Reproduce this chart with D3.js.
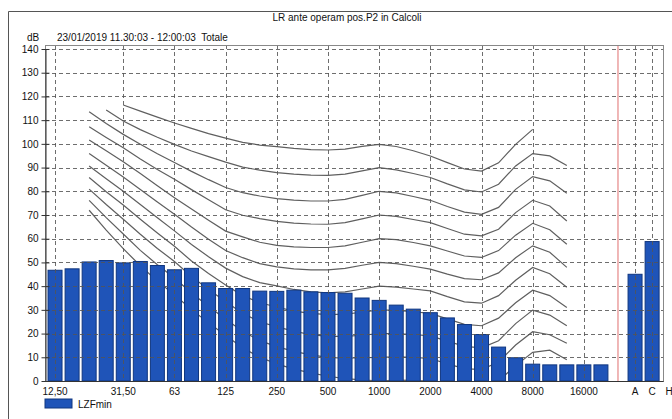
<!DOCTYPE html>
<html>
<head>
<meta charset="utf-8">
<script src="https://cdn.jsdelivr.net/npm/d3@7"></script>
<style>
  body { margin: 0; background: #fff; }
  text { font-family: "Liberation Sans", Arial, sans-serif; }
</style>
</head>
<body>
<div id="container"></div>
<script>
/**
 * CONSTANTS AND GLOBALS
 * */
const width = 672,
  height = 419,
  plot = { left: 45, right: 663, top: 45, bottom: 381 };

// third-octave bands shown as bars
const bandLabels = ['12,50','16','20','25','31,50','40','50','63','80','100','125','160','200','250',
  '315','400','500','630','800','1000','1250','1600','2000','2500','3150','4000','5000','6300',
  '8000','10000','12500','16000','20000'];
const lzfmin = [46.7, 47.3, 50.2, 50.8, 49.8, 50.4, 48.7, 46.9, 47.5, 41.4, 39.0, 39.0, 37.9, 37.8,
  38.3, 37.6, 37.3, 37.0, 35.0, 34.0, 32.0, 30.3, 28.8, 26.6, 23.8, 19.6, 14.3, 9.8,
  7.1, 6.8, 6.8, 6.8, 6.8];

// overall weighted levels
const totalLabels = ['A', 'C', 'H'];
const totalValues = [45.0, 58.8, null];

const tickLabels = ['12,50','31,50','63','125','250','500','1000','2000','4000','8000','16000','A','C','H'];
const yTicks = [0, 10, 20, 30, 40, 50, 60, 70, 80, 90, 100, 110, 120, 130, 140];

// equal loudness contours, 20 Hz .. 12500 Hz (null = not drawn)
const contourBands = ['20','25','31,50','40','50','63','80','100','125','160','200','250','315','400',
  '500','630','800','1000','1250','1600','2000','2500','3150','4000','5000','6300','8000','10000','12500'];
const phon100 = [null, null, 116.4, 113.8, 111.3, 108.8, 106.5, 104.3, 102.4, 100.6, 99.5, 98.8, 98.1, 97.6,
  97.4, 97.8, 98.9, 99.8, 98.9, 97.1, 94.9, 92.1, 89.4, 88.5, 92.0, 99.8, 106.1, null, null];
const phon90 = [null, 114.3, 109.6, 106.0, 102.8, 99.8, 97.0, 94.6, 92.3, 90.2, 88.9, 87.9, 87.2, 86.8,
  86.7, 87.2, 88.6, 90.0, 89.0, 87.5, 85.8, 83.1, 80.6, 79.7, 83.0, 90.7, 95.9, 94.9, 90.9];
const phon80 = [113.5, 108.6, 104.0, 99.8, 95.8, 92.1, 88.4, 84.9, 81.6, 79.4, 78.0, 76.9, 76.3, 75.9,
  75.9, 76.6, 78.3, 80.0, 79.3, 77.8, 76.2, 73.6, 71.2, 70.3, 73.2, 80.8, 86.2, 84.4, 79.2];
const phon70 = [107.2, 102.7, 98.4, 93.6, 89.2, 85.1, 80.7, 76.4, 72.2, 69.9, 68.5, 67.3, 66.6, 66.2,
  66.1, 66.8, 68.4, 70.0, 69.4, 68.1, 66.8, 64.3, 61.9, 61.2, 64.0, 71.0, 76.2, 73.8, 67.5];
const phon60 = [101.6, 97.1, 92.5, 87.5, 82.3, 77.3, 72.5, 67.8, 63.2, 60.8, 58.5, 57.2, 56.6, 56.3,
  56.3, 57.0, 58.5, 60.0, 59.6, 58.4, 57.0, 54.8, 52.7, 52.1, 55.0, 61.5, 66.5, 63.8, 57.7];
const phon50 = [95.9, 91.0, 86.0, 80.8, 75.5, 70.3, 64.9, 59.8, 55.0, 52.0, 49.5, 48.1, 47.3, 46.9,
  46.9, 47.5, 48.8, 50.0, 49.5, 48.4, 47.2, 45.1, 43.2, 42.7, 45.6, 52.0, 57.0, 54.3, 47.9];
const phon40 = [90.7, 85.3, 80.0, 74.4, 68.8, 63.3, 57.6, 52.4, 47.6, 44.0, 41.5, 40.1, 38.6, 37.6,
  37.2, 37.6, 38.8, 40.0, 39.6, 38.8, 38.0, 35.6, 33.4, 32.8, 36.0, 42.5, 47.9, 45.2, 39.5];
const phon30 = [85.8, 79.8, 74.2, 68.2, 62.4, 56.8, 50.6, 45.3, 40.5, 36.0, 33.0, 31.2, 29.5, 28.5,
  28.0, 28.2, 29.0, 30.0, 29.8, 29.2, 28.5, 26.2, 23.9, 23.3, 26.5, 33.0, 38.3, 36.0, 31.0];
const phon20 = [80.9, 74.4, 68.2, 61.9, 55.9, 50.4, 44.1, 38.6, 33.5, 28.5, 25.0, 22.8, 21.0, 19.5,
  18.8, 18.8, 19.3, 20.0, 20.0, 19.6, 19.0, 16.8, 14.6, 14.0, 17.0, 24.2, 29.9, 27.8, 23.3];
const phon10 = [76.2, 68.9, 62.0, 55.1, 49.0, 43.4, 37.1, 31.5, 26.0, 21.0, 17.0, 14.5, 12.5, 11.0,
  10.0, 9.6, 9.8, 10.0, 10.2, 10.0, 9.5, 7.2, 5.2, 4.8, 8.0, 15.2, 20.8, 19.5, 15.9];
const phon0 = [72.0, 63.6, 55.8, 48.6, 42.1, 36.4, 30.1, 24.6, 19.2, 14.0, 10.0, 7.2, 5.0, 3.4,
  2.0, 1.0, 0.5, 0.0, 0.4, 0.3, 0.0, -2.0, -3.8, -4.0, 0.0, 6.5, 12.1, 13.0, 9.0];
const contours = [phon0, phon10, phon20, phon30, phon40, phon50, phon60, phon70, phon80, phon90, phon100];

const barFill = "#1f54b8", barStroke = "#10367f";
const textColor = "#111";

/**
 * SCALES
 * */
const categories = bandLabels.concat(['gap'], totalLabels);

const x = d3.scaleBand()
  .domain(categories)
  .range([46.5, 677.7])
  .paddingInner(0.18)
  .paddingOuter(0.09);
const xc = d => x(d) + x.bandwidth() / 2;

const y = d3.scaleLinear()
  .domain([0, 140])
  .range([381, 49]);

const svg = d3.select("#container")
  .append("svg")
  .attr("width", width)
  .attr("height", height);

svg.append("defs").append("clipPath")
  .attr("id", "plotclip")
  .append("rect")
  .attr("x", plot.left)
  .attr("y", plot.top)
  .attr("width", plot.right - plot.left)
  .attr("height", plot.bottom - plot.top);

// outer frame
svg.append("line").attr("x1", 8.5).attr("x2", 8.5).attr("y1", 11.5).attr("y2", height)
  .attr("stroke", "#555");
svg.append("line").attr("x1", 8.5).attr("x2", width).attr("y1", 11.5).attr("y2", 11.5)
  .attr("stroke", "#555");

// titles
svg.append("text").attr("x", 347).attr("y", 21).attr("text-anchor", "middle")
  .attr("font-size", 10).attr("fill", textColor).text("LR ante operam pos.P2 in Calcoli");
svg.append("text").attr("x", 27).attr("y", 41)
  .attr("font-size", 10).attr("fill", textColor).text("dB");
svg.append("text").attr("x", 57).attr("y", 41)
  .attr("font-size", 10).attr("fill", textColor).attr("xml:space", "preserve")
  .text("23/01/2019 11.30:03 - 12:00:03  Totale");

const inner = svg.append("g").attr("clip-path", "url(#plotclip)");

// contours (behind the bars)
const line = d3.line()
  .defined(d => d.v !== null)
  .x(d => xc(d.f))
  .y(d => y(d.v));

inner.selectAll("path.contour")
  .data(contours.map(c => c.map((v, i) => ({ f: contourBands[i], v: v }))))
  .join("path")
  .attr("class", "contour")
  .attr("fill", "none")
  .attr("stroke", "#5f5f5f")
  .attr("stroke-width", 1.2)
  .attr("d", line);

// bars
const bars = bandLabels.map((b, i) => ({ k: b, v: lzfmin[i] }))
  .concat(totalLabels.map((b, i) => ({ k: b, v: totalValues[i] })))
  .filter(d => d.v !== null);

inner.selectAll("rect.bar")
  .data(bars)
  .join("rect")
  .attr("class", "bar")
  .attr("x", d => x(d.k))
  .attr("y", d => y(d.v))
  .attr("width", x.bandwidth())
  .attr("height", d => y(0) - y(d.v))
  .attr("fill", barFill)
  .attr("stroke", barStroke)
  .attr("stroke-width", 1);

// grid (drawn over the bars)
const grid = svg.append("g").attr("stroke", "#555").attr("stroke-dasharray", "4,3")
  .attr("stroke-opacity", 0.85);
grid.selectAll("line.h")
  .data(yTicks.filter(d => d > 0))
  .join("line")
  .attr("class", "h")
  .attr("x1", plot.left).attr("x2", plot.right)
  .attr("y1", d => Math.round(y(d)) + 0.5).attr("y2", d => Math.round(y(d)) + 0.5);
grid.selectAll("line.v")
  .data(tickLabels.filter(d => d !== 'H'))
  .join("line")
  .attr("class", "v")
  .attr("x1", d => Math.round(xc(d)) + 0.5).attr("x2", d => Math.round(xc(d)) + 0.5)
  .attr("y1", plot.top).attr("y2", plot.bottom);

// separator before the overall levels
svg.append("line")
  .attr("x1", xc('gap')).attr("x2", xc('gap'))
  .attr("y1", plot.top).attr("y2", plot.bottom)
  .attr("stroke", "#e07070").attr("stroke-width", 1);

// plot box
svg.append("rect")
  .attr("x", plot.left + 0.5).attr("y", plot.top + 0.5)
  .attr("width", plot.right - plot.left).attr("height", plot.bottom - plot.top)
  .attr("fill", "none").attr("stroke", "#888");

// axes
const yAxis = svg.append("g")
  .attr("transform", `translate(${plot.left + 0.5},0)`)
  .call(d3.axisLeft(y).tickValues(yTicks).tickSizeInner(4).tickSizeOuter(0).tickPadding(3));
yAxis.select(".domain").attr("stroke", "#333");
yAxis.selectAll(".tick line").attr("x2", 4).attr("x1", -4).attr("stroke", "#333");
yAxis.selectAll(".tick text").attr("font-size", 10).attr("fill", textColor)
  .attr("font-family", "Liberation Sans, Arial, sans-serif");

const xAxis = svg.append("g")
  .attr("transform", `translate(0,${plot.bottom + 0.5})`)
  .call(d3.axisBottom(x).tickValues(tickLabels).tickSize(0).tickPadding(6));
xAxis.select(".domain").remove();
xAxis.selectAll(".tick text").attr("font-size", 10).attr("fill", textColor)
  .attr("font-family", "Liberation Sans, Arial, sans-serif");
svg.append("line").attr("x1", plot.left).attr("x2", plot.right + 0.5)
  .attr("y1", plot.bottom + 0.5).attr("y2", plot.bottom + 0.5).attr("stroke", "#333");

// legend
svg.append("rect").attr("x", 45).attr("y", 399).attr("width", 27).attr("height", 9)
  .attr("fill", barFill).attr("stroke", barStroke);
svg.append("text").attr("x", 78).attr("y", 408).attr("font-size", 10).attr("fill", textColor)
  .text("LZFmin");
</script>
</body>
</html>
